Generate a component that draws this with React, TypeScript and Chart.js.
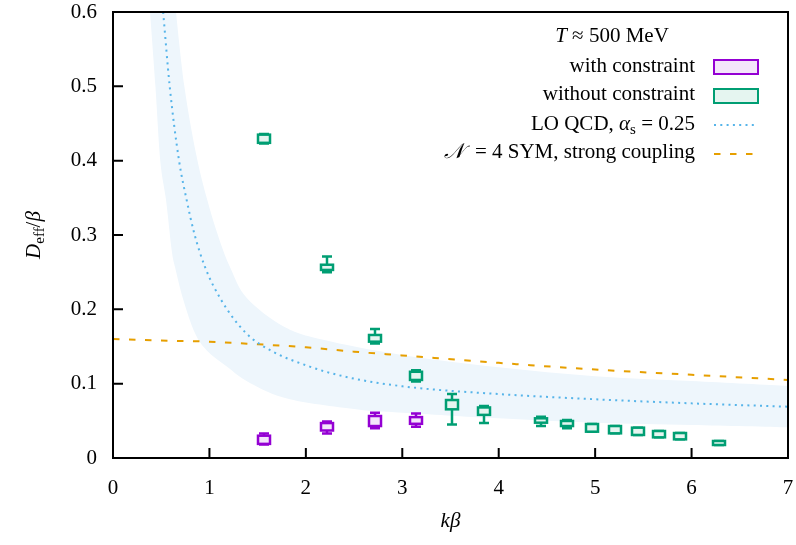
import React, { useEffect, useRef } from "react";
import { Chart, registerables } from "chart.js";
Chart.register(...registerables);

const SERIF = '"Liberation Serif", "DejaVu Serif", serif';

// axis ticks
const X_TICKS = [0, 1, 2, 3, 4, 5, 6, 7];
const Y_TICKS = [0, 0.1, 0.2, 0.3, 0.4, 0.5, 0.6];

// lattice data: with constraint
const KB_WITH = [1.571, 2.221, 2.721, 3.142];
const WITH_WLO = [0.018, 0.033, 0.040, 0.042];
const WITH_BLO = [0.019, 0.037, 0.043, 0.046];
const WITH_BHI = [0.030, 0.047, 0.0565, 0.055];
const WITH_WHI = [0.033, 0.049, 0.061, 0.060];

// lattice data: without constraint
const KB_WITHOUT = [1.571, 2.221, 2.721, 3.142, 3.512, 3.848, 4.443, 4.712, 4.967, 5.21, 5.441, 5.663, 5.877, 6.283];
const WO_WLO = [0.423, 0.250, 0.154, 0.103, 0.045, 0.047, 0.043, 0.040, 0.0354, 0.0332, 0.031, 0.0278, 0.0251, 0.0175];
const WO_BLO = [0.424, 0.253, 0.1565, 0.105, 0.0655, 0.058, 0.0475, 0.043, 0.0354, 0.0332, 0.031, 0.0278, 0.0251, 0.0175];
const WO_BHI = [0.435, 0.260, 0.1655, 0.116, 0.078, 0.068, 0.0534, 0.0498, 0.0457, 0.043, 0.0408, 0.0363, 0.0336, 0.0229];
const WO_WHI = [0.436, 0.271, 0.1735, 0.118, 0.086, 0.070, 0.0556, 0.0511, 0.0457, 0.043, 0.0408, 0.0363, 0.0336, 0.0229];

// LO QCD central curve
const KB_QCD = [0.52, 0.588, 0.685, 0.764, 0.843, 0.954, 1.12, 1.38, 1.63, 2.04, 2.42, 3.0, 4.0, 5.0, 6.0, 7.0];
const D_QCD = [0.6, 0.5, 0.4, 0.347, 0.302, 0.257, 0.213, 0.168, 0.145, 0.123, 0.109, 0.0965, 0.086, 0.079, 0.0735, 0.069];

// LO QCD band
const KB_BAND_LO = [0.384, 0.44, 0.49, 0.55, 0.608, 0.643, 0.729, 0.85, 0.97, 1.18, 1.42, 1.835, 2.56, 3.0, 4.0, 5.0, 6.0, 7.0];
const D_BAND_LO = [0.6, 0.5, 0.4, 0.347, 0.28, 0.257, 0.213, 0.168, 0.145, 0.123, 0.101, 0.079, 0.065, 0.061, 0.0534, 0.0475, 0.0444, 0.0413];
const KB_BAND_HI = [0.653, 0.74, 0.86, 0.978, 1.1, 1.22, 1.39, 1.77, 2.18, 2.98, 4.0, 5.0, 6.0, 7.0];
const D_BAND_HI = [0.6, 0.5, 0.41, 0.347, 0.295, 0.255, 0.215, 0.177, 0.159, 0.139, 0.122, 0.110, 0.1036, 0.097];

// N=4 SYM strong coupling
const KB_SYM = [0, 0.5, 1, 1.5, 2, 2.5, 3, 4, 5, 6, 7];
const D_SYM = [0.16, 0.158, 0.1565, 0.153, 0.149, 0.143, 0.138, 0.128, 0.119, 0.112, 0.105];

const GREEN = "#009E73";
const GREEN_FILL = "#E5F5F0";
const PURPLE = "#9400D3";
const PURPLE_FILL = "#F4E5FB";
const BLUE = "#56B4E9";
const BAND = "#EEF6FC";
const ORANGE = "#E69F00";

type Seg = { t: string; size?: number; italic?: boolean; dy?: number; dx?: number };

function fontOf(s: Seg, base: number) {
  return `${s.italic ? "italic " : ""}${s.size ?? base}px ${SERIF}`;
}

function drawRich(ctx: CanvasRenderingContext2D, segs: Seg[], x: number, y: number, align: "left" | "right" | "center", base = 21) {
  const widths = segs.map((s) => {
    ctx.font = fontOf(s, base);
    return ctx.measureText(s.t).width + (s.dx ?? 0);
  });
  const total = widths.reduce((a, b) => a + b, 0);
  let cx = align === "right" ? x - total : align === "center" ? x - total / 2 : x;
  ctx.textAlign = "left";
  ctx.textBaseline = "alphabetic";
  segs.forEach((s, i) => {
    ctx.font = fontOf(s, base);
    ctx.fillText(s.t, cx, y + (s.dy ?? 0));
    cx += widths[i];
  });
}

const pairs = (xs: number[], ys: number[]) => xs.map((x, i) => ({ x, y: ys[i] }));

// smooth path (Catmull-Rom) through pixel points
function splineTo(ctx: CanvasRenderingContext2D, pts: { x: number; y: number }[], first: boolean) {
  pts.forEach((p, i) => {
    if (i === 0) {
      if (first) ctx.moveTo(p.x, p.y); else ctx.lineTo(p.x, p.y);
      return;
    }
    const p0 = pts[Math.max(0, i - 2)];
    const p1 = pts[i - 1];
    const p3 = pts[Math.min(pts.length - 1, i + 1)];
    const c1x = p1.x + (p.x - p0.x) / 6, c1y = p1.y + (p.y - p0.y) / 6;
    const c2x = p.x - (p3.x - p1.x) / 6, c2y = p.y - (p3.y - p1.y) / 6;
    ctx.bezierCurveTo(c1x, c1y, c2x, c2y, p.x, p.y);
  });
}

const decorPlugin = {
  id: "decor",
  beforeDatasetsDraw(chart: any) {
    const { ctx, chartArea: a, scales } = chart;
    const xs = scales.x, ys = scales.y;
    ctx.save();
    ctx.beginPath();
    ctx.rect(a.left, a.top, a.right - a.left, a.bottom - a.top);
    ctx.clip();
    ctx.beginPath();
    const lo = KB_BAND_LO.map((k, i) => ({ x: xs.getPixelForValue(k), y: ys.getPixelForValue(D_BAND_LO[i]) }));
    const hi = KB_BAND_HI.map((k, i) => ({ x: xs.getPixelForValue(k), y: ys.getPixelForValue(D_BAND_HI[i]) })).reverse();
    splineTo(ctx, lo, true);
    splineTo(ctx, hi, false);
    ctx.closePath();
    ctx.fillStyle = BAND;
    ctx.fill();
    ctx.restore();
  },
  afterDatasetsDraw(chart: any) {
    const { ctx, scales } = chart;
    const xs = scales.x, ys = scales.y;
    const drawBoxes = (kb: number[], wlo: number[], blo: number[], bhi: number[], whi: number[], col: string, fill: string) => {
      ctx.save();
      ctx.strokeStyle = col;
      kb.forEach((k, i) => {
        const px = Math.round(xs.getPixelForValue(k));
        const yWl = ys.getPixelForValue(wlo[i]);
        const yBl = ys.getPixelForValue(blo[i]);
        const yBh = ys.getPixelForValue(bhi[i]);
        const yWh = ys.getPixelForValue(whi[i]);
        ctx.lineWidth = 2.5;
        ctx.beginPath();
        ctx.moveTo(px, yWh); ctx.lineTo(px, yBh);
        ctx.moveTo(px, yBl); ctx.lineTo(px, yWl);
        ctx.moveTo(px - 5, yWh); ctx.lineTo(px + 5, yWh);
        ctx.moveTo(px - 5, yWl); ctx.lineTo(px + 5, yWl);
        ctx.stroke();
        ctx.fillStyle = fill;
        ctx.fillRect(px - 6, yBh, 12, yBl - yBh);
        ctx.strokeRect(px - 6, yBh, 12, yBl - yBh);
      });
      ctx.restore();
    };
    drawBoxes(KB_WITHOUT, WO_WLO, WO_BLO, WO_BHI, WO_WHI, GREEN, GREEN_FILL);
    drawBoxes(KB_WITH, WITH_WLO, WITH_BLO, WITH_BHI, WITH_WHI, PURPLE, PURPLE_FILL);
  },
  afterDraw(chart: any) {
    const { ctx, chartArea: a, scales } = chart;
    ctx.save();
    // frame
    ctx.strokeStyle = "#000";
    ctx.lineWidth = 2;
    ctx.strokeRect(a.left, a.top, a.right - a.left, a.bottom - a.top);
    // inward ticks
    ctx.beginPath();
    scales.x.ticks.forEach((t: any) => {
      const px = scales.x.getPixelForValue(t.value);
      ctx.moveTo(px, a.bottom); ctx.lineTo(px, a.bottom - 10);
    });
    scales.y.ticks.forEach((t: any) => {
      const py = scales.y.getPixelForValue(t.value);
      ctx.moveTo(a.left, py); ctx.lineTo(a.left + 10, py);
    });
    ctx.stroke();

    ctx.fillStyle = "#000";
    // axis titles
    drawRich(ctx, [{ t: "k", italic: true }, { t: "β", italic: true }], (a.left + a.right) / 2, 527, "center");
    ctx.save();
    ctx.translate(40, (a.top + a.bottom) / 2);
    ctx.rotate(-Math.PI / 2);
    drawRich(ctx, [
      { t: "D", italic: true },
      { t: "eff", size: 15, dy: 4 },
      { t: "/" },
      { t: "β", italic: true },
    ], 0, 0, "center");
    ctx.restore();

    // legend
    drawRich(ctx, [{ t: "T", italic: true }, { t: " ≈ 500 MeV" }], 612, 42, "center");
    const rx = 695;
    drawRich(ctx, [{ t: "with constraint" }], rx, 72, "right");
    drawRich(ctx, [{ t: "without constraint" }], rx, 100, "right");
    drawRich(ctx, [{ t: "LO QCD, " }, { t: "α", italic: true }, { t: "s", size: 15, dy: 4 }, { t: " = 0.25" }], rx, 130, "right");
    drawRich(ctx, [{ t: "𝒩", italic: true, dx: 6 }, { t: " = 4 SYM, strong coupling" }], rx, 158, "right");

    ctx.lineWidth = 2;
    ctx.fillStyle = PURPLE_FILL;
    ctx.strokeStyle = PURPLE;
    ctx.fillRect(714, 60, 44, 14);
    ctx.strokeRect(714, 60, 44, 14);
    ctx.fillStyle = GREEN_FILL;
    ctx.strokeStyle = GREEN;
    ctx.fillRect(714, 89, 44, 14);
    ctx.strokeRect(714, 89, 44, 14);

    ctx.strokeStyle = BLUE;
    ctx.setLineDash([2, 4.3]);
    ctx.beginPath();
    ctx.moveTo(714, 125); ctx.lineTo(758, 125);
    ctx.stroke();
    ctx.strokeStyle = ORANGE;
    ctx.setLineDash([6.5, 9.5]);
    ctx.beginPath();
    ctx.moveTo(714, 154); ctx.lineTo(758, 154);
    ctx.stroke();
    ctx.restore();
  },
};

export default function App() {
  const ref = useRef<HTMLCanvasElement>(null);
  useEffect(() => {
    document.body.style.margin = "0";
    const tickFont = { family: SERIF, size: 21, lineHeight: 1 };
    const chart = new Chart(ref.current!, {
      type: "scatter",
      data: {
        datasets: [
          {
            label: "LO QCD",
            data: pairs(KB_QCD, D_QCD),
            showLine: true,
            borderColor: BLUE,
            borderWidth: 2,
            borderDash: [2, 4.3],
            pointRadius: 0,
            cubicInterpolationMode: "monotone",
            clip: 0,
          } as any,
          {
            label: "N=4 SYM",
            data: pairs(KB_SYM, D_SYM),
            showLine: true,
            borderColor: ORANGE,
            borderWidth: 2,
            borderDash: [6.5, 9.5],
            pointRadius: 0,
            cubicInterpolationMode: "monotone",
            clip: 0,
          } as any,
          {
            label: "without constraint",
            data: KB_WITHOUT.map((k, i) => ({ x: k, y: (WO_BLO[i] + WO_BHI[i]) / 2 })),
            pointRadius: 0,
          },
          {
            label: "with constraint",
            data: KB_WITH.map((k, i) => ({ x: k, y: (WITH_BLO[i] + WITH_BHI[i]) / 2 })),
            pointRadius: 0,
          },
        ],
      },
      options: {
        responsive: false,
        animation: false,
        devicePixelRatio: 1,
        layout: { padding: { left: 0, right: 8, top: 12, bottom: 0 } },
        plugins: { legend: { display: false }, tooltip: { enabled: false } },
        scales: {
          x: {
            type: "linear",
            min: 0,
            max: 7,
            afterBuildTicks: (s: any) => { s.ticks = X_TICKS.map((v) => ({ value: v })); },
            afterFit: (s: any) => { s.height = 87; s.paddingLeft = 0; s.paddingRight = 0; s.paddingTop = 0; s.paddingBottom = 0; },
            grid: { display: false, drawTicks: false },
            border: { display: false },
            ticks: { font: tickFont, color: "#000", padding: 20, maxRotation: 0 },
          },
          y: {
            type: "linear",
            min: 0,
            max: 0.6,
            afterBuildTicks: (s: any) => { s.ticks = Y_TICKS.map((v) => ({ value: v })); },
            afterFit: (s: any) => { s.width = 113; s.paddingLeft = 0; s.paddingRight = 0; s.paddingTop = 0; s.paddingBottom = 0; },
            grid: { display: false, drawTicks: false },
            border: { display: false },
            ticks: { font: tickFont, color: "#000", padding: 16, callback: (v: any) => String(Math.round(v * 10) / 10) },
          },
        },
      },
      plugins: [decorPlugin],
    } as any);
    return () => chart.destroy();
  }, []);
  return (
    <div style={{ width: 796, height: 545 }}>
      <canvas ref={ref} width={796} height={545} style={{ display: "block" }} />
    </div>
  );
}
